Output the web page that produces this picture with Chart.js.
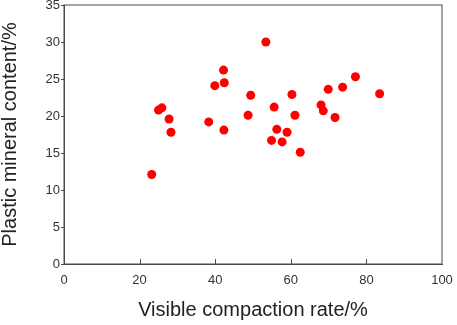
<!DOCTYPE html>
<html lang="en">
<head>
    <meta charset="UTF-8">
    <title>Plastic mineral content vs visible compaction rate</title>
    <style>
        html, body {
            margin: 0;
            padding: 0;
            background: #fff;
        }
        #wrap {
            width: 457px;
            height: 325px;
        }
    </style>
    <script src="https://cdn.jsdelivr.net/npm/chart.js"></script>
</head>
<body>
    <div id="wrap"><canvas id="scatterChart"></canvas></div>

    <script>
        // values
        const compactionRate = [25.0, 25.9, 27.8, 28.3, 38.3, 39.9, 42.2, 42.4, 42.3, 23.2,
                                53.4, 49.4, 60.3, 55.6, 48.7, 61.1, 56.3, 59.0, 54.9, 57.7,
                                62.5, 68.0, 68.6, 71.7, 69.9, 73.7, 77.1, 83.5];
        const mineralContent = [20.8, 21.1, 19.6, 17.8, 19.2, 24.1, 26.2, 24.5, 18.1, 12.1,
                                30.0, 22.8, 22.9, 21.2, 20.1, 20.1, 18.2, 17.8, 16.7, 16.5,
                                15.1, 21.5, 20.7, 19.8, 23.6, 23.9, 25.3, 23.0];
        const xTicks = [0, 20, 40, 60, 80, 100];
        const yTicks = [0, 5, 10, 15, 20, 25, 30, 35];

        const axisColor = '#4a4a4a';

        const points = compactionRate.map((x, i) => ({ x: x, y: mineralContent[i] }));

        // box around the plot plus the short inward ticks on the x axis
        const framePlugin = {
            id: 'frame',
            afterDraw(chart) {
                const { ctx, chartArea } = chart;
                const xs = chart.scales.x;
                ctx.save();
                ctx.strokeStyle = axisColor;
                ctx.lineWidth = 1;
                ctx.strokeRect(chartArea.left, chartArea.top,
                               chartArea.right - chartArea.left, chartArea.bottom - chartArea.top);
                ctx.beginPath();
                xTicks.slice(1, -1).forEach(v => {
                    const px = Math.round(xs.getPixelForValue(v)) + 0.5;
                    ctx.moveTo(px, chartArea.bottom);
                    ctx.lineTo(px, chartArea.bottom - 5);
                });
                ctx.stroke();
                ctx.restore();
            }
        };

        new Chart(document.getElementById('scatterChart'), {
            type: 'scatter',
            data: {
                datasets: [{
                    label: 'samples',
                    data: points,
                    backgroundColor: '#ff0000',
                    borderWidth: 0,
                    pointRadius: 4.5,
                    pointHoverRadius: 4.5
                }]
            },
            options: {
                responsive: true,
                maintainAspectRatio: false,
                animation: false,
                layout: {
                    padding: { left: 0, right: 15, top: 5, bottom: 0 }
                },
                plugins: {
                    legend: { display: false },
                    tooltip: { enabled: false }
                },
                scales: {
                    x: {
                        type: 'linear',
                        min: 0,
                        max: 100,
                        afterBuildTicks: (scale) => {
                            scale.ticks = xTicks.map(v => ({ value: v }));
                        },
                        afterFit: (scale) => {
                            scale.height = 61;
                            scale.paddingLeft = 0;
                            scale.paddingRight = 0;
                        },
                        grid: { display: false, drawTicks: false },
                        border: { display: true, color: axisColor, width: 1 },
                        ticks: {
                            padding: 9,
                            color: '#333',
                            font: { family: 'Arial, "Liberation Sans", sans-serif', size: 13 }
                        },
                        title: {
                            display: true,
                            text: 'Visible compaction rate/%',
                            color: '#222',
                            padding: { top: 0, bottom: 5 },
                            font: { family: 'Arial, "Liberation Sans", sans-serif', size: 20, lineHeight: 1 }
                        }
                    },
                    y: {
                        type: 'linear',
                        min: 0,
                        max: 35,
                        afterBuildTicks: (scale) => {
                            scale.ticks = yTicks.map(v => ({ value: v }));
                        },
                        afterFit: (scale) => {
                            scale.width = 64;
                            scale.paddingTop = 0;
                            scale.paddingBottom = 0;
                        },
                        grid: {
                            drawOnChartArea: false,
                            drawTicks: true,
                            tickLength: 3,
                            color: axisColor
                        },
                        border: { display: true, color: axisColor, width: 1 },
                        ticks: {
                            padding: 1,
                            color: '#333',
                            font: { family: 'Arial, "Liberation Sans", sans-serif', size: 13 }
                        },
                        title: {
                            display: true,
                            text: 'Plastic mineral content/%',
                            color: '#222',
                            padding: { top: 0, bottom: 0 },
                            font: { family: 'Arial, "Liberation Sans", sans-serif', size: 20, lineHeight: 1 }
                        }
                    }
                }
            },
            plugins: [framePlugin]
        });
    </script>
</body>
</html>
